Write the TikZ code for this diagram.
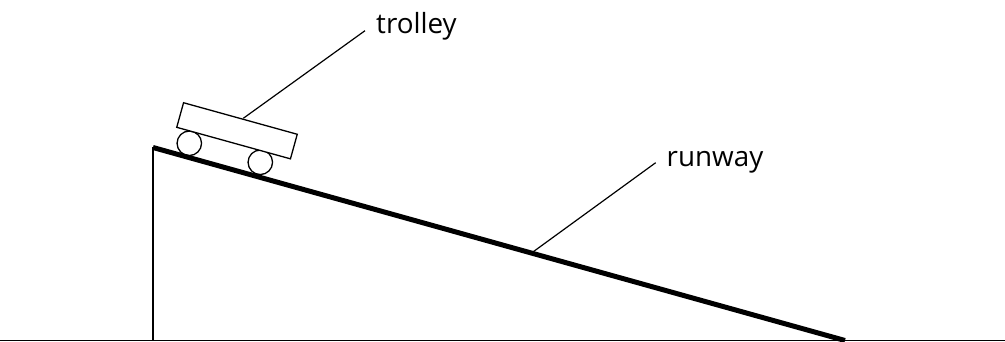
\documentclass[tikz,border=0pt]{standalone}
\usepackage{fontspec}
\setmainfont{Open Sans}
\usepackage{tikz}

\tikzset{
  thinline/.style={line width=1.2pt},
  wheel/.style={circle,draw,line width=1.3pt,minimum size=24.5pt,inner sep=0pt,outer sep=0pt},
  body/.style={rectangle,draw,fill=white,line width=1.3pt,minimum width=118pt,minimum height=25.5pt,inner sep=0pt,outer sep=0pt},
  tag/.style={inner sep=0pt,font=\fontsize{27.8}{28}\selectfont}
}

\begin{document}
\begin{tikzpicture}[x=1pt,y=1pt]
    \useasboundingbox (0,0) rectangle (1005,342);

    \coordinate (groundl) at (0,1.5);
    \coordinate (groundr) at (1005,1.5);
    \coordinate (foot) at (153,1.5);
    \coordinate (top) at (153,194.5);
    \coordinate (bottom) at (845,1.5);
    \draw[line width=1.5pt] (groundl) -- (groundr);
    \draw[line width=1.5pt] (foot) -- (top);
    \draw[line width=5pt] (top) -- (bottom);

    \node[wheel] (w1) at (189.3,198.7) {};
    \node[wheel] (w2) at (260.3,179.7) {};
    \node[body,rotate=-15.5] (cart) at (237,211.2) {};

    \node[tag] (trolley) at (416.5,316) {trolley};
    \node[tag] (runway) at (715,180) {runway};

    \coordinate (t1) at (243.3,223.7);
    \coordinate (t2) at (365,311.3);
    \coordinate (r1) at (533.3,90.3);
    \coordinate (r2) at (655.7,179.3);
    \draw[thinline] (t1) -- (t2);
    \draw[thinline] (r1) -- (r2);
\end{tikzpicture}
\end{document}
